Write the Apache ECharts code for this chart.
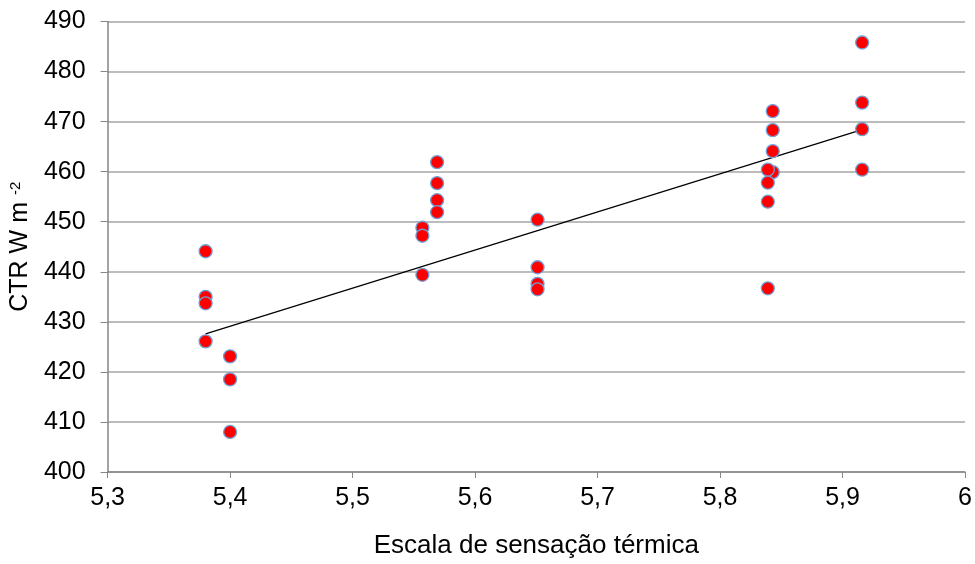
<!DOCTYPE html>
<html>
<head>
<meta charset="utf-8">
<script src="https://cdn.jsdelivr.net/npm/echarts@6/dist/echarts.min.js"></script>
<style>html,body{margin:0;padding:0;background:#fff}#c{width:975px;height:564px}</style>
</head>
<body>
<div id="c"></div>
<script>
// Observations: x = thermal sensation scale, y = CTR (W m-2)
const xValues = [5.38,5.38,5.38,5.38, 5.40,5.40,5.40,
  5.569,5.569,5.569,5.569, 5.557,5.557,5.557,
  5.651,5.651,5.651,5.651,
  5.843,5.843,5.843,5.843, 5.839,5.839,5.839,5.839,
  5.916,5.916,5.916,5.916];
const yValues = [444.1,435.0,433.7,426.1, 423.1,418.5,408.0,
  461.9,457.7,454.3,451.9, 448.8,447.2,439.4,
  450.4,440.9,437.6,436.5,
  472.1,468.3,464.1,459.9, 460.4,457.8,454.0,436.7,
  485.8,473.8,468.5,460.4];
// Trend line endpoints
const trendX = [5.38, 5.916];
const trendY = [427.6, 468.4];
const xTicks = [5.3, 6];
const yTicks = [400, 490];

const points = xValues.map((x, i) => [x, yValues[i]]);
const trend = trendX.map((x, i) => [x, trendY[i]]);

const font = 'Liberation Sans, Arial, sans-serif';
const chart = echarts.init(document.getElementById('c'), null, {renderer: 'canvas'});
chart.setOption({
  animation: false,
  backgroundColor: '#fff',
  grid: {left: 107.5, right: 9.5, top: 21.5, bottom: 91, containLabel: false},
  xAxis: {
    type: 'value', min: xTicks[0], max: xTicks[1], interval: 0.1,
    name: 'Escala de sensação térmica', nameLocation: 'middle', nameGap: 61,
    nameTextStyle: {fontFamily: font, fontSize: 26, color: '#000'},
    axisLine: {show: true, lineStyle: {color: '#868686', width: 1.5}},
    axisTick: {show: true, length: 6, lineStyle: {color: '#868686', width: 1}},
    splitLine: {show: false},
    axisLabel: {fontFamily: font, fontSize: 25, color: '#000', margin: 14,
      formatter: v => { const s = (Math.round(v*10)/10).toString(); return s.replace('.', ','); }}
  },
  yAxis: {
    type: 'value', min: yTicks[0], max: yTicks[1], interval: 10,
    name: '{a|CTR W m }{b|-2}', nameLocation: 'middle', nameGap: 72, nameRotate: 90,
    nameTextStyle: {fontFamily: font, fontSize: 25, color: '#000',
      rich: {a: {fontFamily: font, fontSize: 25, color: '#000'},
             b: {fontFamily: font, fontSize: 15, color: '#000', padding: [0,0,10,0]}}},
    axisLine: {show: true, lineStyle: {color: '#868686', width: 1.5}},
    axisTick: {show: true, inside: false, length: 7, lineStyle: {color: '#868686', width: 1}},
    splitLine: {show: true, lineStyle: {color: '#a6a6a6', width: 1.5}},
    axisLabel: {fontFamily: font, fontSize: 25, color: '#000', margin: 22}
  },
  series: [
    {type: 'line', data: trend, symbol: 'none', silent: true,
     lineStyle: {color: '#000', width: 1.2}, z: 2},
    {type: 'scatter', data: points, symbol: 'circle', symbolSize: 13,
     itemStyle: {color: '#ff0000', borderColor: '#6f9fd6', borderWidth: 1.3, opacity: 1}, z: 3}
  ]
});
</script>
</body>
</html>
